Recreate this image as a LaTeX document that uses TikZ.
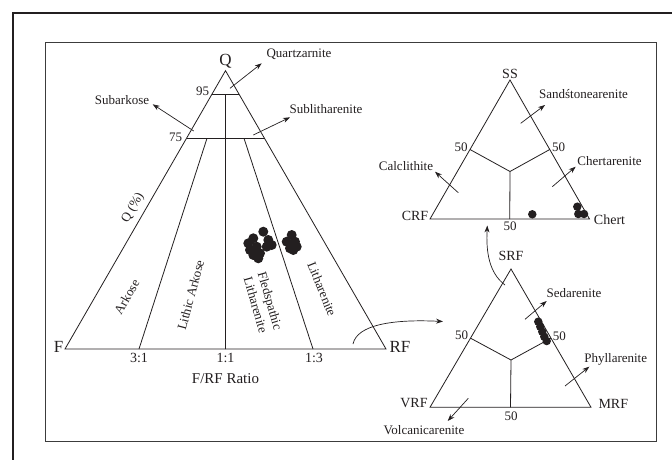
\documentclass[tikz,border=0pt]{standalone}
\usepackage{fontspec}
\setmainfont{Liberation Serif}
\usepackage{tikz}
\usetikzlibrary{calc,arrows.meta}
\definecolor{ink}{HTML}{231F20}
\definecolor{rim}{HTML}{3C3C3C}
\tikzset{
  base/.style={draw=ink, line width=0.8pt, line join=miter},
  pointer/.style={draw=ink, line width=0.7pt, -{Stealth[length=7pt,width=5pt]}},
  dot/.style={circle, fill=ink, inner sep=0pt, minimum size=10pt},
  sdot/.style={circle, fill=ink, inner sep=0pt, minimum size=8.5pt},
  lab/.style={text=ink, font=\fontsize{13}{15}\selectfont, inner sep=1pt},
  labm/.style={text=ink, font=\fontsize{14}{16}\selectfont, inner sep=1pt},
  labl/.style={text=ink, font=\fontsize{17}{19}\selectfont, inner sep=1pt},
}
\begin{document}
\begin{tikzpicture}[x=1pt,y=-1pt]
  \useasboundingbox (0,0) rectangle (672,460);
  \fill[white] (0,0) rectangle (672,460);
  \draw[draw=ink, line width=2pt] (12.7,470) |- (680,13.3);
  \draw[draw=rim, line width=1pt] (45,42.3) rectangle (656,441);
  % Q-F-RF
  \coordinate (Q) at (225.5,70.7);
  \coordinate (F) at (65,349);
  \coordinate (RF) at (386,349);
  \coordinate (q95l) at ($(Q)!0.084!(F)$);
  \coordinate (q95r) at ($(Q)!0.084!(RF)$);
  \coordinate (q75l) at ($(Q)!0.243!(F)$);
  \coordinate (q75r) at ($(Q)!0.243!(RF)$);
  \coordinate (q95m) at ($(q95l)!0.5!(q95r)$);
  \coordinate (d31) at (207,138.3);
  \coordinate (d13) at (244,138.3);
  \coordinate (r31) at (139,349);
  \coordinate (r11) at (225.5,349);
  \coordinate (r13) at (313,349);
  \draw[base] (F) -- (Q) -- (RF) -- cycle;
  \draw[base] (q95l) -- (q95r) (q75l) -- (q75r);
  \draw[base] (q95m) -- (r11) (d31) -- (r31) (d13) -- (r13);
  \node[labl] (Qlab) at (225.5,61) {Q};
  \node[labl] (Flab) at (58.5,347) {F};
  \node[labl] (RFlab) at (400,347) {RF};
  \node[lab] (n95) at (202.7,91.7) {95};
  \node[lab] (n75) at (175.7,137.3) {75};
  \node[labm] (t31) at (139,357.5) {3:1};
  \node[labm] (t11) at (225.5,357.5) {1:1};
  \node[labm] (t13) at (314,357.5) {1:3};
  \node[font=\fontsize{15}{17}\selectfont, text=ink] (ratio) at (225.5,379) {F/RF Ratio};
  \node[lab, rotate=60] (qpct) at (133,208) {Q (\%)};
  \node[lab, rotate=60] (arkose) at (126.7,296.7) {Arkose};
  \node[lab, rotate=75] (larkose) at (190.7,295) {Lithic Arkose};
  \node[lab, rotate=-74, align=center] (flith) at (263,303) {Fledspathic\\Litharenite};
  \node[lab, rotate=-68] (lith) at (322,289) {Litharenite};
  \coordinate (sbk0) at (193.7,131);
  \coordinate (sbk1) at (152.7,104.3);
  \coordinate (qtz0) at (230,88.3);
  \coordinate (qtz1) at (261.7,63.3);
  \coordinate (slt0) at (253.3,135);
  \coordinate (slt1) at (290,117.3);
  \draw[pointer] (sbk0) -- (sbk1);
  \draw[pointer] (qtz0) -- (qtz1);
  \draw[pointer] (slt0) -- (slt1);
  \node[lab] (subarkose) at (122,100) {Subarkose};
  \node[lab] (quartz) at (299,54.3) {Quartzarnite};
  \node[lab] (sublith) at (326,109.5) {Sublitharenite};
  \foreach \X/\Y in {263.3/231.7,253.3/238.3,248.3/243.3,268.3/240,256.7/246.7,
    266.7/246.7,260/253.3,253.3/255,271.7/245,258.3/258.3,250/250,
    291.7/235,286.7/241.7,295/241.7,290/248.3,296.7/246.7,293.3/250}
    \node[dot] at (\X,\Y) {};
  % SS-CRF-Chert
  \coordinate (SS) at (510,80);
  \coordinate (CRF) at (430,219);
  \coordinate (CH) at (589.5,219);
  \coordinate (tc) at (510,171.5);
  \draw[base] (CRF) -- (SS) -- (CH) -- cycle;
  \draw[base] ($(SS)!0.5!(CRF)$) -- (tc) -- ($(SS)!0.5!(CH)$) (tc) -- ($(CRF)!0.5!(CH)$);
  \node[labm] (SSlab) at (510,74) {SS};
  \node[labm] (CRFlab) at (415,215.7) {CRF};
  \node[labm] (CHlab) at (609.5,220) {Chert};
  \node[lab] (t50a) at (461,147.3) {50};
  \node[lab] (t50b) at (558.5,147.3) {50};
  \node[lab] (t50c) at (510,226.7) {50};
  \coordinate (sda0) at (520.7,123.3);
  \coordinate (sda1) at (545,105);
  \coordinate (cal0) at (458.3,192.7);
  \coordinate (cal1) at (435,171.7);
  \coordinate (cha0) at (552.3,186.7);
  \coordinate (cha1) at (575.7,166.7);
  \draw[pointer] (sda0) -- (sda1);
  \draw[pointer] (cal0) -- (cal1);
  \draw[pointer] (cha0) -- (cha1);
  \node[lab] (sandst) at (583.5,94.3) {Sandśtonearenite};
  \node[lab] (calc) at (406,165.7) {Calclithite};
  \node[lab] (chertar) at (609.5,160.7) {Chertarenite};
  \foreach \X/\Y in {532.3/214.3,577.3/206.7,578.3/214,584/214}
    \node[sdot] at (\X,\Y) {};
  % SRF-VRF-MRF
  \coordinate (SRF) at (511,269);
  \coordinate (VRF) at (430,407.3);
  \coordinate (MRF) at (591,407.3);
  \coordinate (bc) at (511,360);
  \draw[base] (VRF) -- (SRF) -- (MRF) -- cycle;
  \draw[base] ($(SRF)!0.5!(VRF)$) -- (bc) -- ($(SRF)!0.5!(MRF)$) (bc) -- ($(VRF)!0.5!(MRF)$);
  \node[labm] (SRFlab) at (511,255.7) {SRF};
  \node[labm] (VRFlab) at (414,402.7) {VRF};
  \node[labm] (MRFlab) at (613.3,404.3) {MRF};
  \node[lab] (b50a) at (461.7,335) {50};
  \node[lab] (b50b) at (559.3,336) {50};
  \node[lab] (b50c) at (511,416) {50};
  \coordinate (sed0) at (525,319.3);
  \coordinate (sed1) at (546.7,301);
  \coordinate (phy0) at (565,386);
  \coordinate (phy1) at (589.3,366.7);
  \coordinate (vol0) at (468.3,398.3);
  \coordinate (vol1) at (447.7,421);
  \draw[pointer] (sed0) -- (sed1);
  \draw[pointer] (phy0) -- (phy1);
  \draw[pointer] (vol0) -- (vol1);
  \node[lab] (sedar) at (574,293.3) {Sedarenite};
  \node[lab] (phyll) at (615.7,359.3) {Phyllarenite};
  \node[lab] (volc) at (424,430) {Volcanicarenite};
  \foreach \X/\Y in {538.3/321.7,540.3/326.7,542.3/331.7,544.3/336.7,546.7/341}
    \node[sdot] at (\X,\Y) {};
  % links
  \coordinate (ln0) at (353,344);
  \coordinate (ln1) at (443,321.5);
  \coordinate (up0) at (505,285);
  \coordinate (up1) at (487.3,225.5);
  \draw[pointer] (ln0) .. controls (357,325) and (392,319) .. (ln1);
  \draw[pointer] (up0) .. controls (489,273) and (486,252) .. (up1);
\end{tikzpicture}
\end{document}
